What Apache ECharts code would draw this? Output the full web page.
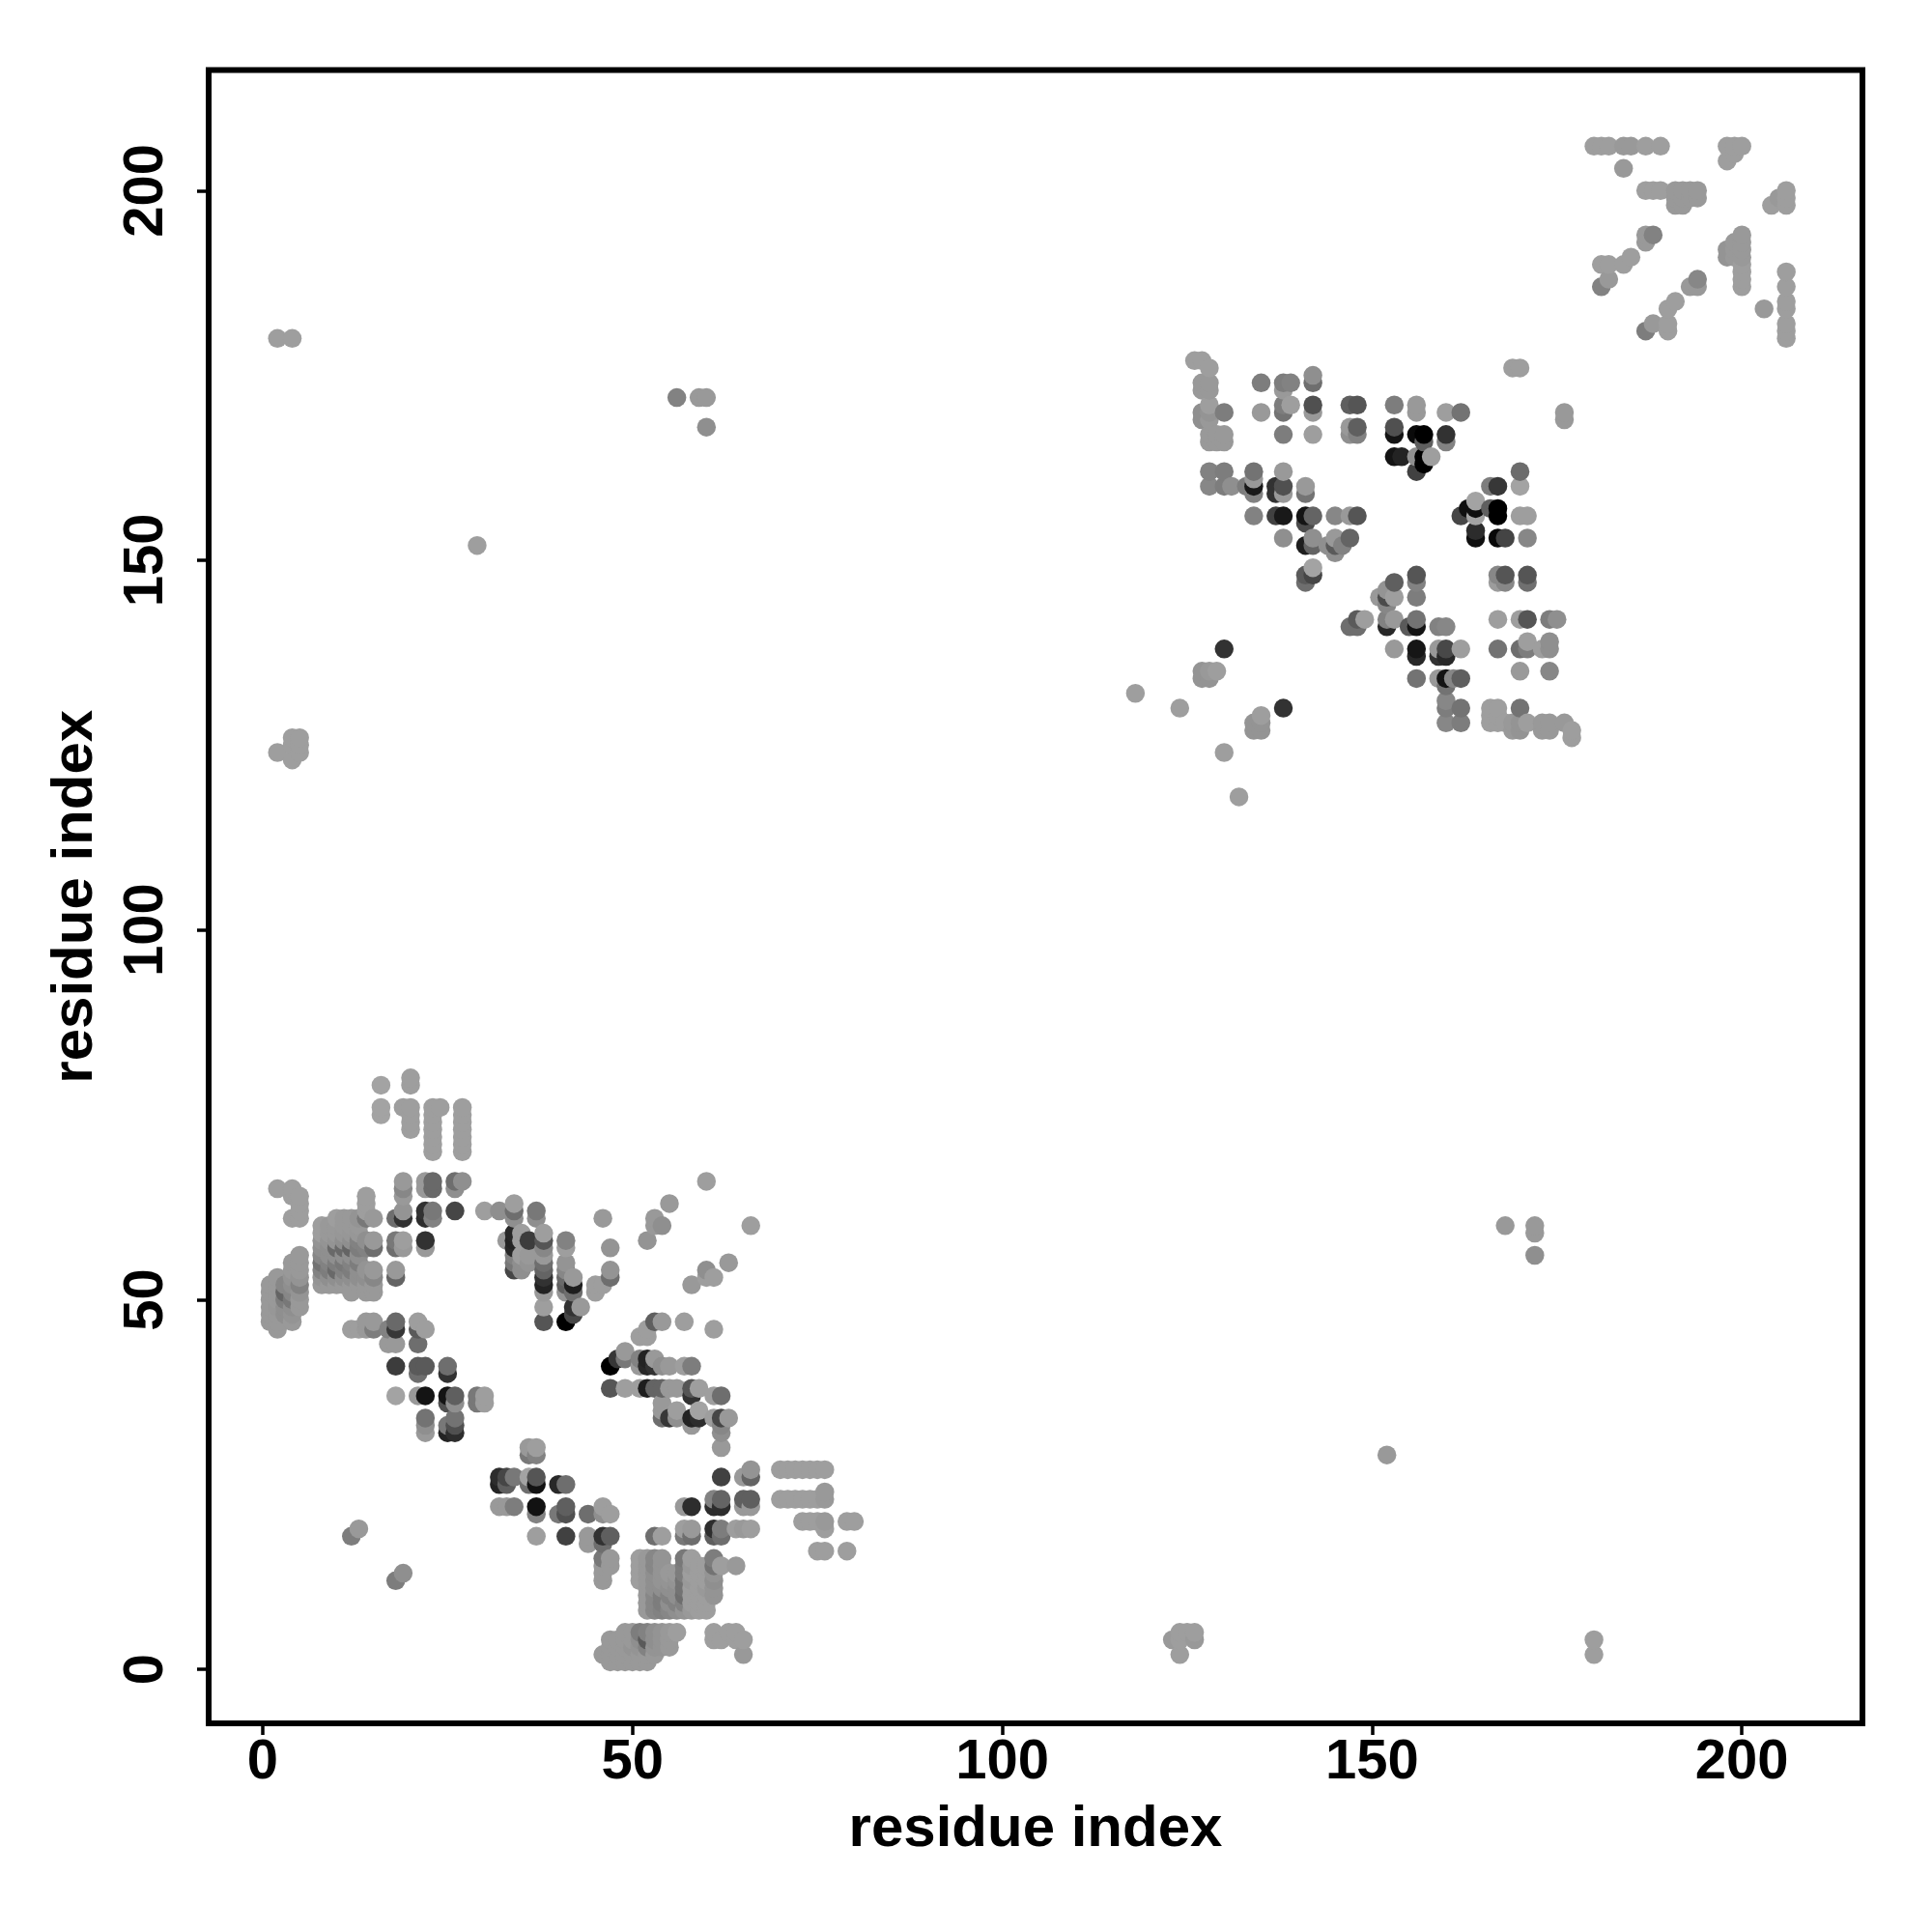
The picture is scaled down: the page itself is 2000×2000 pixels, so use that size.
<!DOCTYPE html>
<html><head><meta charset="utf-8">
<style>html,body{margin:0;padding:0;background:#fff}#c{width:2000px;height:2000px}</style>
<script src="https://cdn.jsdelivr.net/npm/echarts@6/dist/echarts.min.js"></script>
</head><body><div id="c"></div>
<script>
// Each row: residue x, then pairs of (residue y, gray shade 0-255)
const xTicks=[0,50,100,150,200];
const yTicks=[0,50,100,150,200];
const xTitle='residue index';
const yTitle='residue index';
const lowerLeftA=[
[1,52,150,51,150,50,150,49,150,48,150,47,150],
[2,65,155,53,150,52,150,51,150,50,150,49,148,48,150,47,150,46,150],
[3,52,135,51,100,50,125,49,140,48,140],
[4,65,155,64,155,61,155,55,150,54,150,53,145,52,140,51,135,50,120,49,140,48,145,47,150],
[5,64,155,63,155,62,155,61,155,56,150,55,150,54,150,53,145,52,130,51,145,50,150,49,150],
[8,60,155,59,155,58,145,57,140,56,135,55,115,54,130,53,145,52,150],
[9,60,150,59,150,58,145,57,140,56,140,55,130,54,125,53,140,52,150],
[10,61,155,60,150,59,150,58,145,57,105,56,140,55,125,54,105,53,140,52,150],
[11,61,150,60,150,59,148,58,140,57,105,56,140,55,120,54,130,53,140,52,150],
[12,61,150,60,150,59,148,58,140,57,100,56,140,55,130,54,125,53,140,52,150,51,150,46,155,18,125],
[13,61,145,60,150,59,148,58,130,57,125,56,140,55,125,54,140,53,140,52,150,46,155,19,150],
[14,64,155,63,155,62,155,61,120,58,140,57,130,54,145,53,140,52,150,51,150,47,150,46,150],
[15,61,150,58,150,57,110,54,150,53,135,52,150,51,150,47,150,46,125],
[16,79,160,76,160,75,160],
[17,46,130,44,150],
[18,61,110,58,120,57,110,54,150,53,100,47,105,46,55,44,150,41,60,37,160,12,125],
[19,76,155,66,150,65,135,64,150,62,145,61,50,58,155,57,150,13,140],
[20,80,155,79,155,76,155,75,155,74,155,73,155],
[21,47,155,46,90,44,110,41,90,40,110,37,150],
[22,66,150,65,150,62,50,61,45,58,50,57,150,46,155,41,90,37,20,34,115,33,140,32,150],
[23,76,155,75,155,74,155,73,155,72,155,71,155,70,155,66,105,65,105,62,120,61,130],
[24,76,155],
[25,41,110,40,50,37,20,36,80,33,120,32,35],
[26,66,110,65,140,62,70,37,95,36,140,34,115,33,80,32,45],
[27,76,155,75,155,74,155,73,155,72,155,71,155,70,155,66,140],
[29,37,120,36,120],
[30,62,155,37,155,36,155],
[32,62,140,26,45,25,35,22,150],
[33,58,150,26,70,25,95,22,150],
[34,63,155,62,110,61,140,59,40,58,35,57,40,56,130,55,120,54,70,26,120,22,125],
[35,59,155,58,155,56,155,55,140,54,140],
[36,58,60,56,150,55,145,30,150,29,120,26,160,25,110],
[37,62,120,61,140,30,155,29,130,26,85,25,18,22,18,21,130,18,155],
[38,59,155,58,85,57,135,56,150,55,110,54,100,53,50,52,35,51,150,49,155,47,85]
];
const lowerLeftB=[
[40,25,40,21,120],
[41,58,130,57,155,55,145,54,135,53,105,52,95,51,145,47,0,25,110,22,95,21,80,18,65],
[42,53,150,52,30,51,110,49,50,48,70],
[43,49,150],
[44,21,110,18,150,17,150],
[45,52,155,51,155],
[46,61,150,52,155,22,155,21,140,18,50,17,110,15,120,14,150,13,150,12,150,2,150],
[47,57,145,54,145,53,110,41,0,38,85,21,155,18,95,15,150,14,150,4,150,3,150,2,150,1,150],
[48,42,55,4,150,3,150,2,150,1,150],
[49,43,150,42,120,38,155,5,150,4,150,3,150,2,150,1,150],
[50,5,150,4,150,3,145,2,150,1,150],
[51,45,155,42,130,41,150,38,155,15,155,14,155,13,155,12,155,5,125,4,140,3,145,2,150,1,150],
[52,58,145,46,155,45,155,42,35,41,40,38,30,15,150,14,150,13,150,12,150,11,150,10,150,9,150,8,150,5,130,4,90,3,130,2,150,1,150],
[53,61,150,60,150,47,95,42,150,41,50,38,100,18,110,15,135,14,135,13,140,12,140,11,140,10,135,9,135,8,135,5,140,4,140,3,145,2,150],
[54,60,140,47,150,41,140,38,100,36,150,35,150,34,110,18,155,15,145,14,145,13,145,12,145,11,140,10,125,9,125,8,130,5,145,4,145,3,145],
[55,63,150,41,150,38,150,34,55,13,150,12,145,11,140,10,130,9,140,8,135,5,150,4,150,3,150],
[56,38,150,35,155,34,140,13,150,12,145,11,140,10,140,9,130,8,140,5,155],
[57,47,155,41,155,22,150,19,155,18,120,15,120,14,125,13,125,12,115,11,115,10,110,9,130,8,145],
[58,52,150,41,125,38,85,37,50,34,35,33,150,22,45,19,150,18,110,15,155,14,150,13,155,12,150,11,155,10,155,9,155,8,150],
[59,38,155,35,160,34,45,14,155,13,155,12,155,11,155,10,155,9,155,8,155],
[60,66,155,54,140,53,155,14,155,13,155,12,155,11,150,10,155,9,155,8,155],
[61,53,155,46,155,37,155,34,155,23,130,22,45,19,45,18,95,15,125,14,115,13,145,12,140,11,145,10,145,5,155,4,155],
[62,37,110,34,70,33,135,32,140,30,150,26,65,23,100,22,45,19,125,18,110,14,155,4,155],
[63,55,150,34,150,5,155],
[64,19,155,14,150,5,155,4,155],
[65,26,150,23,95,22,150,19,150,4,155,2,150],
[66,60,155,27,145,26,100,23,95,22,150,19,155],
[70,27,155,23,155],[71,27,155,23,155],[72,27,155,23,155],
[73,27,155,23,155,20,155],[74,27,155,23,155,20,155],[75,27,155,23,155,20,155,16,155],
[76,27,155,24,150,23,150,20,150,19,155,16,155],
[79,20,155,16,155],[80,20,155]
];
const scattered=[
[2,180,155,124,155],[4,180,155,126,155,125,155,123,155],[5,126,155,125,155,124,155],
[29,152,155],[56,172,130],[59,172,150],[60,172,150,168,140],
[152,29,150],[123,4,150],[124,5,155,4,155,2,155],[125,5,155],[126,5,155,4,150],
[180,4,155,2,155],[168,60,150],[172,60,150,59,150,56,140]
];
const midRightA=[
[118,132,155],[124,130,155],[126,177,155],
[127,177,155,174,150,173,150,170,140,169,140,135,145,134,145],
[128,176,155,174,150,173,150,171,155,170,145,169,150,167,150,166,150,162,130,160,135,135,150,134,145],
[129,167,150,166,150,135,155],
[130,170,125,167,150,166,150,162,125,160,125,138,50,124,155],
[131,160,140],[132,118,155],[133,160,125],
[134,162,115,161,150,160,25,159,130,156,130,128,145,127,145],
[135,174,125,170,150,129,155,128,145,127,145],
[137,160,50,159,50,156,65],
[138,174,125,173,150,171,125,170,115,167,125,162,150,160,80,159,150,156,25,153,140,130,50],
[139,174,130,171,155],
[141,160,150,159,115,156,20,155,75,152,30,148,90,147,110],
[142,175,140,174,110,171,80,170,150,167,155,156,100,153,140,152,100,149,160,148,70],
[144,152,140],[145,156,135,153,150,152,90,151,140],[146,152,130],
[147,171,95,168,150,167,140,156,150,153,100,141,110],
[148,171,85,168,95,167,130,156,85,142,90,141,110],
[149,142,155],[151,145,150],
[152,146,145,145,75,144,135,142,130,141,40],
[153,171,125,168,80,167,20,164,20,147,95,145,155,142,150,138,150],
[154,164,35],[155,141,90]
];
const midRightB=[
[156,171,150,170,150,167,10,164,140,162,65,148,85,147,130,145,125,142,115,141,20,138,22,137,40,134,115],
[157,167,0,166,95,164,0,163,0],[158,164,155],
[159,141,130,138,150,137,50,134,150],
[160,170,155,167,50,166,130,141,135,138,72,137,40,134,20,133,115,131,135,130,125,128,135],
[161,134,135],
[162,170,115,156,70,138,155,134,95,130,115,128,125],
[163,157,15],
[164,158,160,157,15,156,160,154,44,153,15],
[166,160,125,157,95,130,155,129,155,128,155],
[167,160,55,157,0,156,0,153,8,148,135,147,153,142,155,138,115,130,155,129,155,128,155],
[168,153,68,148,85,147,135,128,155],
[169,176,155,128,150,127,150],
[170,176,155,162,108,160,160,156,155,142,155,138,110,135,150,130,115,128,145,127,145],
[171,156,155,153,135,148,85,147,112,142,85,139,155,138,125,128,155],
[173,138,155,128,150,127,150],
[174,142,125,139,140,138,140,135,135,128,150,127,150],
[175,142,140],[176,170,150,169,150,128,150],[177,127,155,126,155]
];
const upperRight=[
[180,206,155],[181,206,155,190,155,187,130],[182,206,155,190,155,188,150],
[184,206,150,203,150,190,155],[185,206,150,191,155],
[187,206,155,200,155,194,150,193,150,181,125],[188,200,155,194,130,182,150],
[189,206,155,200,155],[190,184,155,182,155,181,155],
[191,200,150,199,150,198,150,185,155],[192,200,150,199,150,198,150],
[193,200,150,199,150,187,150],[194,200,150,199,150,188,135,187,150],
[198,206,155,204,155,192,145,191,145],[199,206,155,205,155,193,150,192,150,191,150],
[200,206,155,194,150,193,150,192,150,191,150,190,155,189,155,188,155,187,155],
[203,184,150],[204,198,155],[205,199,150],
[206,200,155,199,155,198,155,189,155,187,155,185,155,184,155,182,155,181,155,180,155]
];

const points=[];
[lowerLeftA,lowerLeftB,scattered,midRightA,midRightB,upperRight].forEach(group=>{
  group.forEach(row=>{
    for(let i=1;i<row.length;i+=2) points.push([row[0],row[i],row[i+1]]);
  });
});
points.sort((a,b)=>a[0]-b[0]||a[1]-b[1]);

const font={fontFamily:'"Liberation Sans"',fontWeight:'bold',fontSize:58,color:'#000'};
const nameFont=Object.assign({},font,{fontSize:60});
const base={type:'value',min:-7.3,max:216.3,splitLine:{show:false},nameLocation:'middle'};
const tick={show:true,length:12,lineStyle:{color:'#000',width:3.5}};
const chart=echarts.init(document.getElementById('c'),null,{renderer:'canvas'});
chart.setOption({
  animation:false,
  backgroundColor:'#fff',
  grid:{show:true,left:216,top:72.5,width:1712,height:1711.5,borderColor:'#000',borderWidth:6,backgroundColor:'transparent',containLabel:false},
  xAxis:Object.assign({},base,{
    name:xTitle,nameGap:80,nameTextStyle:nameFont,
    axisLine:{show:false,onZero:false},
    axisTick:Object.assign({},tick,{customValues:xTicks}),
    axisLabel:Object.assign({},font,{margin:12,customValues:xTicks})
  }),
  yAxis:Object.assign({},base,{
    name:yTitle,nameGap:108,nameRotate:90,nameTextStyle:nameFont,
    axisLine:{show:false,onZero:false},
    axisTick:Object.assign({},tick,{customValues:yTicks}),
    axisLabel:Object.assign({},font,{margin:35,rotate:90,customValues:yTicks})
  }),
  series:[{
    type:'scatter',data:points,symbol:'circle',symbolSize:19.5,silent:true,progressive:0,large:false,
    itemStyle:{opacity:1,color:p=>{const v=p.value[2],g=v>=140?v+3:v;return 'rgb('+g+','+g+','+g+')';}}
  }]
});
</script></body></html>
